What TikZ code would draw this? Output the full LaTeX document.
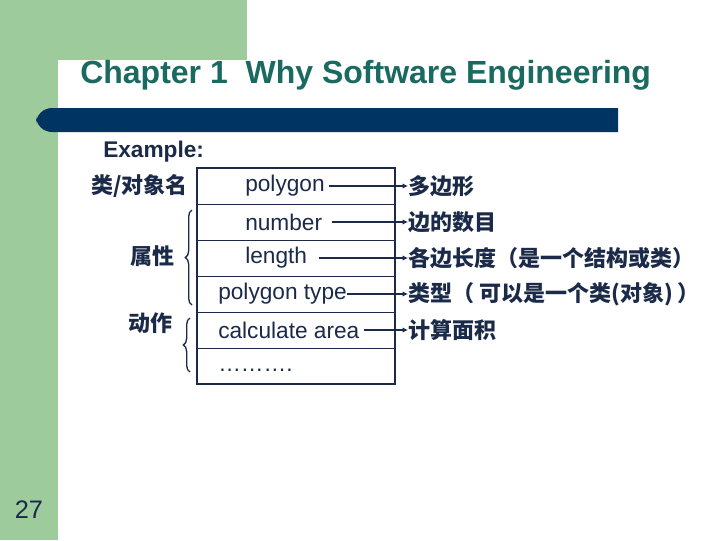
\documentclass[tikz,border=0pt]{standalone}
\usepackage{fontspec}
\setmainfont{Liberation Sans}
\newfontfamily\cjk{Noto Sans CJK SC}
\usetikzlibrary{decorations.pathreplacing,arrows.meta}
\definecolor{grn}{HTML}{9DCB9C}
\definecolor{navy}{HTML}{003462}
\definecolor{ink}{HTML}{1B2A48}
\definecolor{teal}{HTML}{1A6A60}
\begin{document}
\begin{tikzpicture}[x=0.75pt,y=-0.75pt,
  txt/.style={font=\fontsize{17}{20}\selectfont,text=ink,inner sep=0pt},
  cn/.style={font=\cjk\bfseries\fontsize{16.5}{20}\selectfont,text=ink,inner sep=0pt},
  arr/.style={draw=ink,line width=1pt,-{Latex[length=4pt,width=4pt]}},
  brc/.style={draw=ink,line width=1pt,decorate,decoration={brace,amplitude=5pt}}]
\useasboundingbox (0,0) rectangle (720,540);
\fill[white] (0,0) rectangle (720,540);
\fill[grn] (0,0) rectangle (247,60);
\fill[grn] (0,0) rectangle (58,540);
\fill[white,rounded corners=22] (58,115) -- (58,60) -- (247,60) [sharp corners] -- (247,115) -- cycle;
\fill[navy,rounded corners=12] (618,108) -- (36,108) -- (36,132) [sharp corners] -- (618,132) -- cycle;
\node[anchor=west,inner sep=0pt,text=teal,font=\bfseries\fontsize{24}{28}\selectfont] (title) at (80,75) {Chapter 1\ \ Why Software Engineering};
\node[txt,anchor=west,font=\bfseries\fontsize{17}{20}\selectfont] (ex) at (103,152) {Example:};
\node[txt,font=\fontsize{19}{22}\selectfont] (num) at (29,510) {27};
% table
\draw[ink,line width=1pt] (197,168) rectangle (395,384);
\foreach \y in {204,240,276,312,348} \draw[ink,line width=0.6pt] (197,\y) -- (395,\y);
\node[txt,anchor=west] (r1) at (245,186) {polygon};
\node[txt,anchor=west] (r2) at (245,222) {number};
\node[txt,anchor=west] (r3) at (245,258) {length};
\node[txt,anchor=west] (r4) at (218,294) {polygon type};
\node[txt,anchor=west] (r5) at (218,330) {calculate area};
\node[txt,anchor=west] (r6) at (218,370) {……….};
\node[cn,anchor=west] (c1) at (408,186) {多边形};
\node[cn,anchor=west] (c2) at (408,222) {边的数目};
\node[cn,anchor=west] (c3) at (408,258) {各边长度（是一个结构或类）};
\node[cn,anchor=west] (c4) at (408,294) {类型（ 可以是一个类(对象) ）};
\node[cn,anchor=west] (c5) at (408,330) {计算面积};
\draw[arr] (r1.east)++(4,0) -- (c1.west);
\draw[arr] (r2.east)++(10,0) -- (c2.west);
\draw[arr] (r3.east)++(12,0) -- (c3.west);
\draw[arr] (r4.east) -- (c4.west);
\draw[arr] (r5.east)++(4,0) -- (c5.west);
\node[cn,anchor=east] (l1) at (188,186) {类/对象名};
\node[cn] (l2) at (152,256) {属性};
\node[cn] (l3) at (150,323) {动作};
\draw[brc] (192,305) -- (192,210);
\draw[brc] (190,372) -- (190,318);
\end{tikzpicture}
\end{document}
